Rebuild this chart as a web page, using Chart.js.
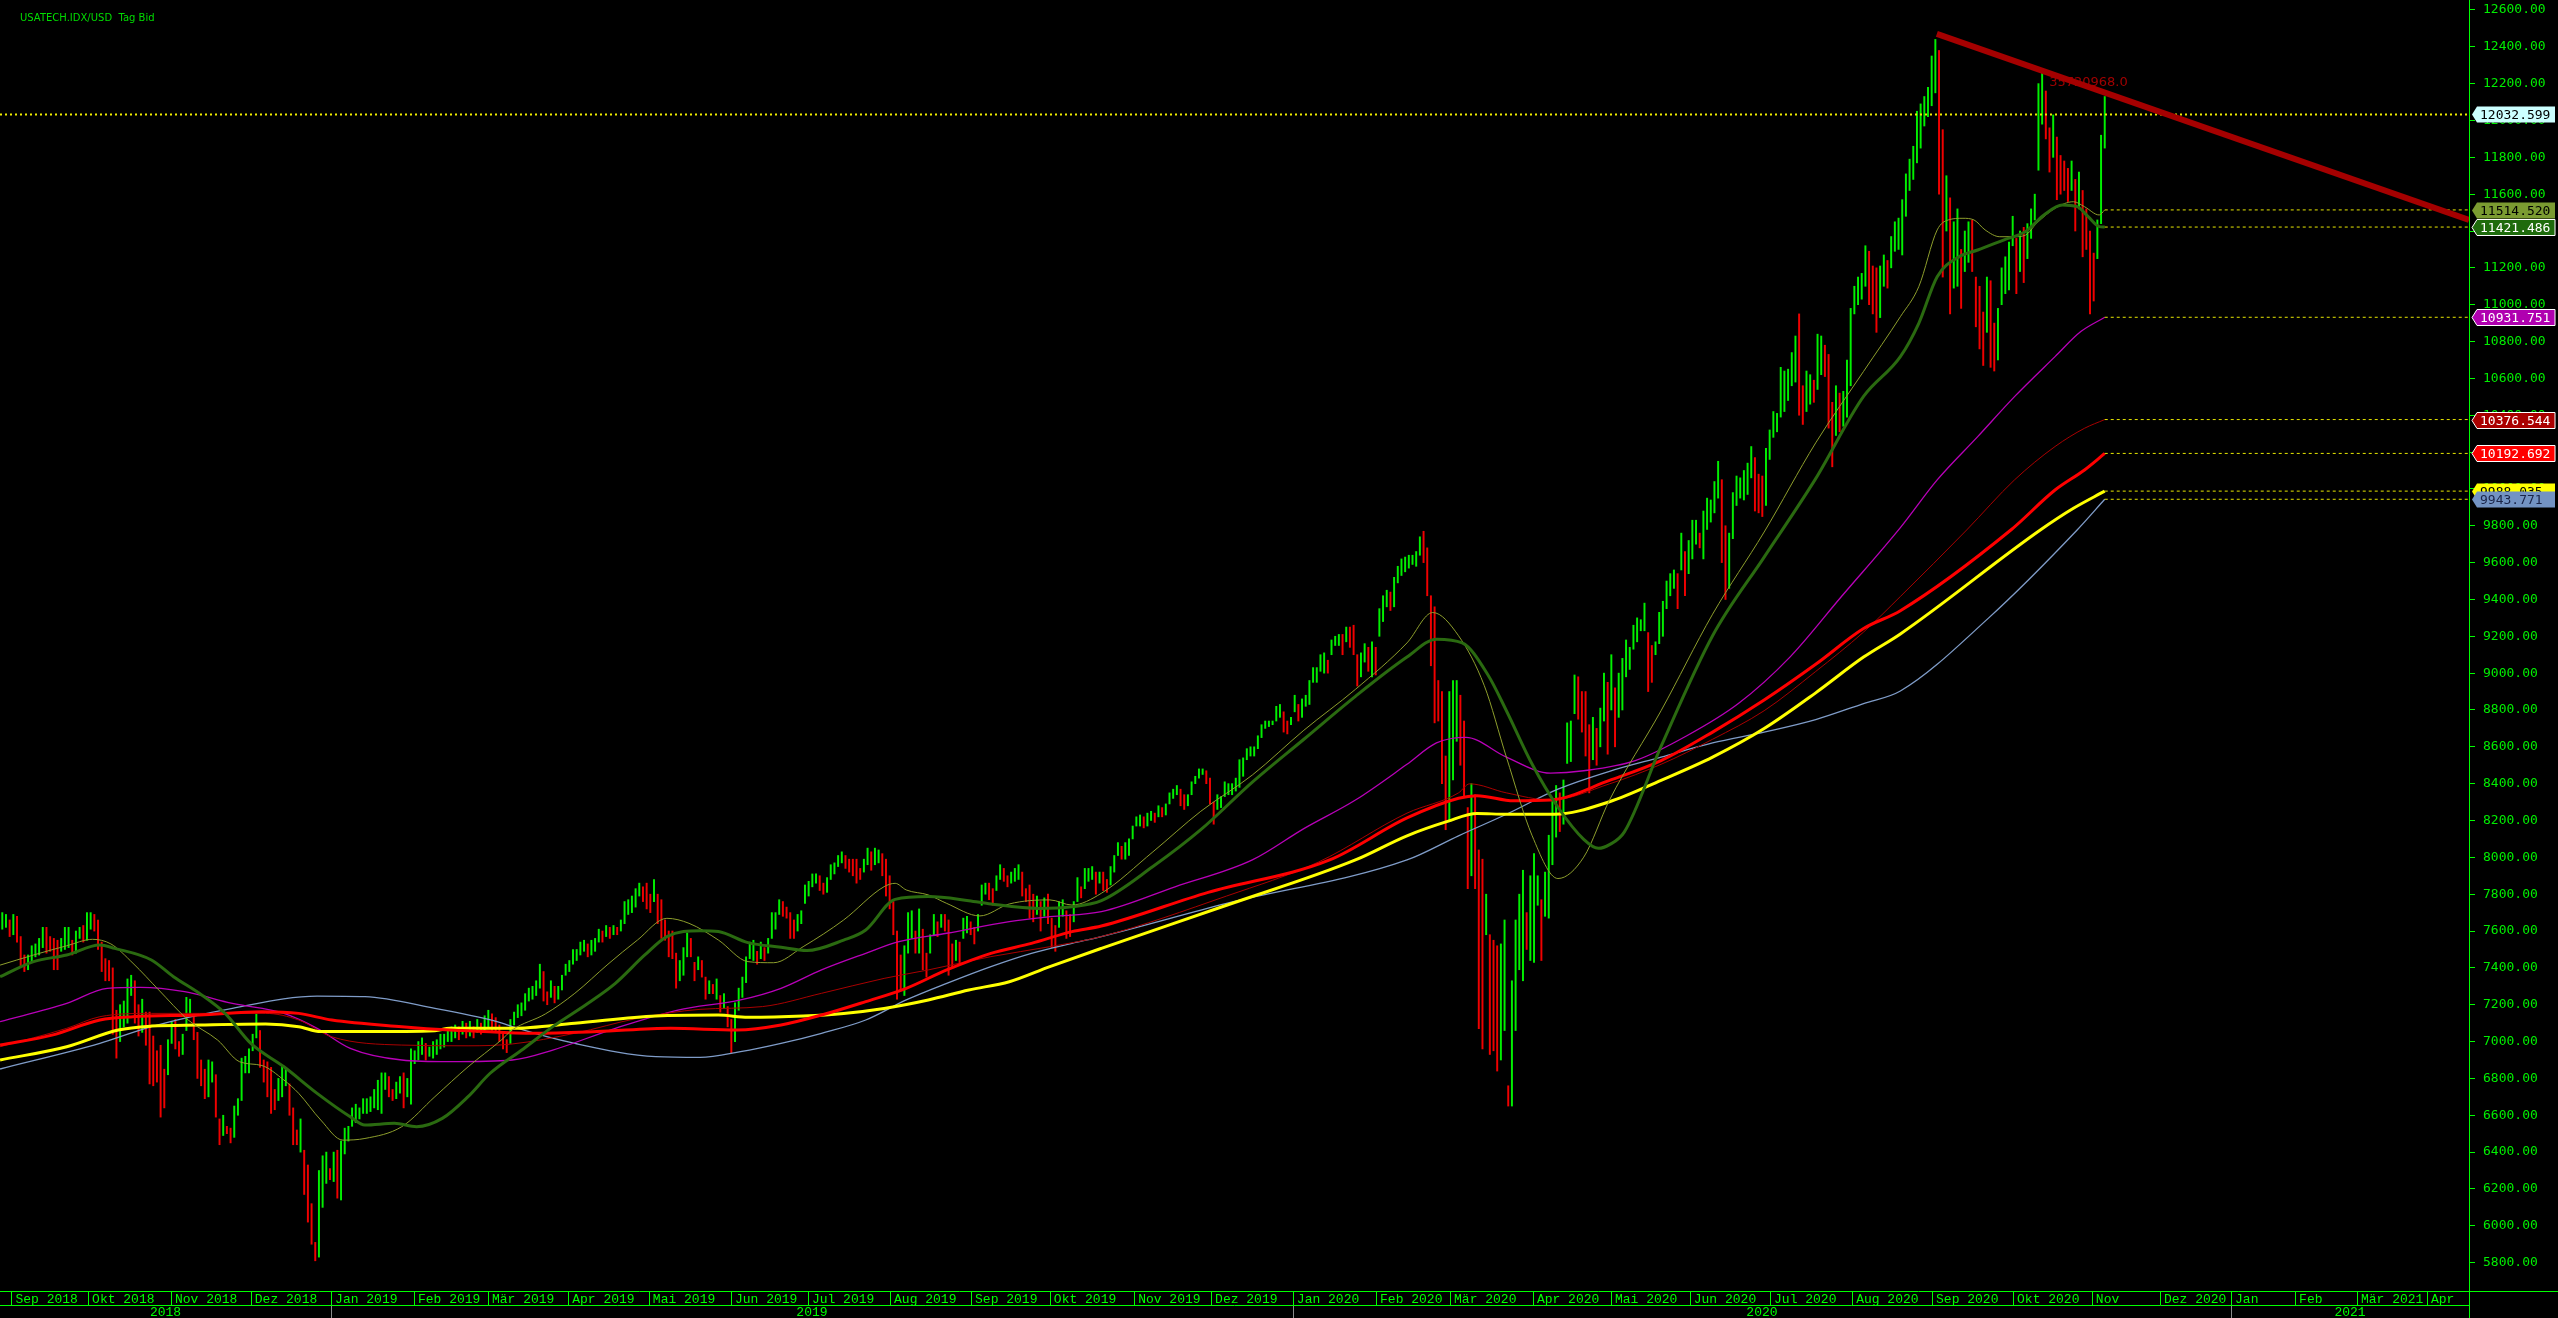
<!DOCTYPE html>
<html>
<head>
<meta charset="utf-8">
<script src="https://cdn.jsdelivr.net/npm/chart.js@4.4.1/dist/chart.umd.min.js"></script>
<style>
  html, body { margin: 0; padding: 0; background: #000; overflow: hidden; }
  canvas { display: block; }
</style>
</head>
<body>
<canvas id="chart" width="2558" height="1318"></canvas>
<script>
// x unit = one weekday, 0 = Mon 3 Sep 2018. First bar is Wed 29 Aug 2018.
const firstDay = -3;
const xMin = -3.12;
const xMax = 667.43;

// daily bars, low / high (USATECH.IDX/USD, daily bid)
const lows = [
  7610, 7620, 7570,
  7580, 7540, 7410, 7380, 7390, 7430, 7460, 7470, 7510, 7480, 7490, 7390, 7390, 7490, 7500, 7510, 7470, 7480, 7560, 7540,
  7550, 7610, 7600, 7500, 7380, 7330, 7330, 7040, 6910, 7000, 7080, 7100, 7250, 7100, 7030, 7050, 6980, 6770, 6760, 6780, 6590, 6640, 6820,
  6990, 6960, 6920, 6930, 7060, 7150, 7010, 6800, 6760, 6690, 6700, 6780, 6590, 6440, 6490, 6500, 6450, 6480, 6600, 6680, 6830, 6830,
  6950, 7020, 6860, 6780, 6700, 6610, 6630, 6680, 6700, 6760, 6600, 6440, 6440, 6400, 6170, 6020, 5900, 5810, 5830, 6100, 6230,
  6250, 6240, 6150, 6140, 6390, 6460, 6540, 6560, 6580, 6610, 6610, 6620, 6640, 6630, 6610, 6740, 6700, 6680, 6690, 6720, 6640, 6700, 6660,
  6880, 6900, 6930, 6900, 6920, 6910, 6930, 6960, 6970, 7000, 7000, 7020, 7010, 7040, 7020, 7030, 7020, 7050, 7040, 7060,
  7070, 7060, 7050, 7000, 6960, 6940, 6990, 7090, 7130, 7140, 7170, 7220, 7230, 7250, 7290, 7220, 7200, 7240, 7210, 7230, 7280,
  7360, 7380, 7420, 7440, 7470, 7490, 7460, 7470, 7490, 7540, 7540, 7570, 7560, 7580, 7580, 7600, 7640, 7690, 7700, 7730, 7790, 7760,
  7720, 7700, 7760, 7640, 7560, 7550, 7460, 7450, 7290, 7330, 7360, 7460, 7460, 7330, 7390, 7350, 7230, 7260, 7260, 7230, 7160, 7180, 7080,
  6940, 7000, 7170, 7240, 7320, 7450, 7440, 7420, 7450, 7440, 7480, 7560, 7610, 7690, 7680, 7670, 7560, 7560, 7600, 7640,
  7750, 7790, 7840, 7860, 7820, 7800, 7810, 7880, 7910, 7950, 7970, 7940, 7920, 7900, 7860, 7880, 7920, 7960, 7930, 7960, 7970, 7900, 7790,
  7720, 7580, 7230, 7280, 7250, 7480, 7560, 7480, 7480, 7390, 7350, 7480, 7580, 7570, 7620, 7600, 7360, 7400, 7440, 7420, 7560, 7590,
  7580, 7530, 7600, 7740, 7800, 7770, 7740, 7820, 7880, 7870, 7840, 7860, 7870, 7880, 7790, 7760, 7670, 7650, 7690, 7600, 7680,
  7640, 7510, 7490, 7620, 7680, 7560, 7570, 7650, 7760, 7780, 7830, 7870, 7880, 7800, 7860, 7820, 7810, 7850, 7920, 8010, 7990, 7990, 8010,
  8100, 8170, 8170, 8160, 8170, 8200, 8190, 8220, 8220, 8230, 8290, 8320, 8340, 8280, 8260, 8280, 8340, 8400, 8430, 8450, 8400,
  8290, 8180, 8260, 8270, 8330, 8340, 8340, 8360, 8380, 8440, 8530, 8550, 8550, 8590, 8650, 8700, 8710, 8720, 8740, 8760, 8680, 8670,
  8720, 8790, 8740, 8760, 8820, 8830, 8950, 8950, 9010, 9000, 9000, 9100, 9150, 9150, 9100, 9170, 9140, 9100, 8930, 8980, 9060, 9010, 8980,
  8990, 9200, 9280, 9360, 9340, 9360, 9490, 9530, 9550, 9570, 9590, 9580, 9640, 9600, 9420, 9040, 8730, 8740, 8400, 8150,
  8200, 8420, 8630, 8500, 8330, 7830, 7900, 7830, 7070, 6960, 7580, 6930, 6950, 6840, 6900, 7060, 6650, 6650, 7060, 7390, 7330, 7500,
  7440, 7430, 7740, 7440, 7680, 7670, 7960, 8110, 8140, 8180, 8510, 8520, 8780, 8750, 8680, 8550, 8350, 8530, 8500, 8600, 8740, 8560,
  8800, 8600, 8760, 8800, 8980, 9020, 9130, 9170, 9230, 9230, 8900, 8950, 9100, 9160, 9200, 9350, 9420, 9460, 9350, 9560, 9420,
  9540, 9620, 9700, 9680, 9620, 9780, 9820, 9870, 9950, 9600, 9400, 9460, 9730, 9910, 9950, 9940, 9970, 10060, 9880, 9870, 9850, 9910,
  10160, 10280, 10310, 10390, 10420, 10480, 10560, 10580, 10400, 10350, 10420, 10460, 10470, 10540, 10620, 10610, 10330, 10120, 10290, 10310, 10340, 10390, 10560,
  10950, 11000, 11030, 11100, 11000, 10950, 10850, 10930, 11100, 11090, 11200, 11290, 11300, 11270, 11480, 11620, 11680, 11770, 11850, 11970, 12020,
  12080, 12150, 11600, 11150, 11400, 10950, 11090, 11100, 10980, 11180, 11230, 11180, 10880, 10760, 10670, 10850, 10660, 10640, 10700, 11000, 11060, 11080,
  11320, 11060, 11180, 11120, 11250, 11360, 11460, 11730, 11980, 11900, 11720, 11800, 11570, 11600, 11620, 11560, 11620, 11400, 11520, 11260, 11300, 10950,
  11020, 11250, 11440, 11850
];
const highs = [
  7700, 7690, 7660,
  7690, 7680, 7570, 7470, 7470, 7520, 7530, 7560, 7620, 7620, 7570, 7560, 7550, 7560, 7620, 7620, 7550, 7600, 7620, 7630,
  7700, 7700, 7690, 7660, 7540, 7450, 7440, 7400, 7170, 7200, 7220, 7340, 7360, 7330, 7200, 7230, 7160, 7160, 7030, 6950, 6980, 6850, 7010,
  7110, 7120, 7000, 7040, 7240, 7230, 7150, 7050, 6900, 6850, 6900, 6890, 6820, 6580, 6600, 6540, 6530, 6650, 6690, 6910, 6920, 6960,
  7040, 7150, 7060, 6900, 6890, 6860, 6740, 6800, 6870, 6860, 6770, 6640, 6520, 6580, 6410, 6330, 6120, 5910, 6300, 6380, 6400,
  6310, 6400, 6410, 6460, 6530, 6540, 6640, 6660, 6640, 6690, 6690, 6700, 6740, 6790, 6830, 6830, 6810, 6740, 6780, 6810, 6830, 6800, 6960,
  6950, 7000, 7020, 6990, 6970, 7000, 7010, 7040, 7040, 7060, 7080, 7090, 7080, 7110, 7100, 7110, 7080, 7120, 7100, 7140,
  7170, 7150, 7130, 7090, 7040, 7010, 7120, 7160, 7200, 7210, 7260, 7290, 7300, 7330, 7420, 7380, 7270, 7330, 7300, 7300, 7360,
  7420, 7440, 7500, 7500, 7540, 7550, 7530, 7550, 7560, 7610, 7600, 7630, 7620, 7630, 7620, 7660, 7760, 7770, 7790, 7830, 7860, 7840,
  7860, 7800, 7880, 7800, 7770, 7660, 7600, 7600, 7480, 7440, 7510, 7590, 7560, 7430, 7460, 7440, 7350, 7330, 7310, 7340, 7250, 7260, 7190,
  7120, 7210, 7290, 7350, 7460, 7540, 7550, 7490, 7540, 7510, 7560, 7700, 7700, 7770, 7760, 7730, 7700, 7660, 7690, 7710,
  7850, 7870, 7910, 7910, 7900, 7860, 7890, 7960, 7970, 8010, 8030, 8010, 7990, 7990, 7990, 7940, 7990, 8050, 8030, 8050, 8040, 8020, 7990,
  7900, 7760, 7600, 7470, 7520, 7700, 7710, 7600, 7720, 7610, 7480, 7580, 7690, 7650, 7690, 7690, 7660, 7530, 7550, 7540, 7670, 7680,
  7650, 7620, 7690, 7850, 7860, 7860, 7830, 7900, 7960, 7940, 7900, 7920, 7940, 7960, 7920, 7830, 7850, 7800, 7790, 7760, 7780,
  7800, 7670, 7630, 7760, 7770, 7710, 7690, 7760, 7890, 7840, 7940, 7940, 7950, 7920, 7920, 7920, 7880, 7950, 8010, 8080, 8060, 8080, 8100,
  8170, 8220, 8230, 8220, 8240, 8250, 8240, 8280, 8270, 8290, 8350, 8370, 8390, 8370, 8340, 8340, 8410, 8440, 8480, 8480, 8470,
  8430, 8300, 8340, 8330, 8410, 8400, 8400, 8430, 8530, 8540, 8590, 8600, 8600, 8660, 8720, 8740, 8740, 8740, 8820, 8830, 8790, 8740,
  8760, 8880, 8830, 8860, 8880, 8960, 9030, 9030, 9100, 9110, 9070, 9180, 9200, 9210, 9210, 9250, 9250, 9260, 9100, 9110, 9160, 9140, 9170,
  9140, 9350, 9420, 9450, 9440, 9520, 9580, 9620, 9630, 9640, 9640, 9660, 9740, 9770, 9680, 9420, 9360, 8960, 8900, 8550,
  8900, 8960, 8960, 8880, 8740, 8270, 8400, 8340, 8040, 7990, 7800, 7580, 7550, 7520, 7530, 7660, 6760, 7330, 7660, 7800, 7930, 7700,
  7900, 8020, 7900, 7770, 7920, 8120, 8320, 8390, 8350, 8420, 8730, 8740, 8990, 8980, 8900, 8900, 8720, 8760, 8700, 8810, 9000, 8950,
  9100, 8920, 9000, 9080, 9180, 9140, 9260, 9300, 9290, 9380, 9220, 9150, 9170, 9330, 9390, 9500, 9540, 9560, 9540, 9760, 9660,
  9720, 9830, 9830, 9760, 9880, 9950, 9940, 10040, 10150, 10050, 9800, 9760, 9980, 10070, 10060, 10100, 10140, 10230, 10170, 10080, 10070, 10220,
  10320, 10420, 10410, 10660, 10640, 10650, 10740, 10830, 10950, 10560, 10640, 10620, 10590, 10840, 10830, 10780, 10730, 10470, 10560, 10520, 10530, 10700, 10980,
  11100, 11150, 11170, 11320, 11290, 11210, 11200, 11210, 11270, 11240, 11370, 11450, 11470, 11570, 11710, 11790, 11860, 12050, 12090, 12130, 12180,
  12350, 12440, 12380, 11950, 11700, 11580, 11450, 11520, 11300, 11400, 11450, 11460, 11150, 11100, 10960, 11150, 11130, 10900, 10980, 11200, 11260, 11340,
  11480, 11360, 11400, 11420, 11440, 11520, 11600, 12200, 12260, 12160, 11960, 12030, 11910, 11810, 11780, 11740, 11780, 11680, 11720, 11620, 11520, 11400,
  11280, 11460, 11920, 12130
];

const lastPrice = 12032.599;

// moving averages as [weekday, value]
const maFast = [[-3.1,7415],[6,7470],[15,7520],[22,7555],[27,7530],[33,7425],[40,7280],[48,7117],[56,7008],[62,6890],[68,6870],[74,6791],[78,6719],[84,6574],[90,6465],[96,6474],[106,6538],[115,6701],[124,6863],[133,7008],[136,7063],[145,7150],[153,7262],[162,7420],[170,7551],[178,7669],[184,7642],[192,7551],[200,7434],[207,7428],[215,7515],[226,7660],[237,7841],[240,7859],[243,7823],[249,7796],[254,7750],[263,7682],[271,7747],[282,7769],[288,7741],[296,7805],[310,8030],[323,8250],[337,8447],[351,8690],[365,8912],[379,9164],[386,9329],[393,9203],[400,8932],[406,8544],[413,8117],[420,7885],[427,8001],[434,8311],[448,8796],[462,9320],[476,9766],[490,10250],[503,10638],[513,10935],[518,11098],[523,11406],[526,11460],[530,11469],[533,11460],[536,11406],[540,11369],[544,11369],[547,11378],[550,11442],[555,11523],[560,11559],[563,11532],[567,11487],[568.5,11514.52]];
const maGreen = [[-3.1,7352],[6,7434],[15,7470],[24,7524],[28,7506],[38,7443],[44,7352],[51,7262],[58,7153],[65,6990],[74,6863],[83,6719],[92,6592],[96,6547],[104,6556],[110,6538],[117,6583],[124,6701],[130,6828],[139,6960],[147,7081],[156,7200],[164,7316],[172,7470],[178,7570],[187,7602],[192,7597],[200,7537],[209,7512],[216,7494],[226,7551],[232,7606],[240,7772],[249,7787],[260,7765],[266,7747],[279,7723],[288,7732],[296,7765],[310,7950],[323,8150],[337,8408],[351,8641],[365,8874],[379,9087],[387,9184],[394,9164],[401,8990],[406,8796],[413,8505],[420,8272],[427,8098],[431,8049],[434,8069],[438,8137],[448,8602],[462,9203],[476,9630],[490,10056],[503,10502],[513,10718],[518,10899],[523,11152],[529,11261],[534,11297],[541,11351],[547,11397],[552,11487],[557,11541],[561,11532],[564,11478],[567,11424],[568.5,11421.486]];
const maMagenta = [[-3.1,7108],[15,7207],[26,7289],[35,7294],[47,7271],[60,7207],[74,7153],[83,7072],[92,6963],[106,6900],[119,6891],[136,6900],[147,6954],[164,7072],[181,7171],[198,7226],[209,7289],[220,7389],[232,7479],[241,7542],[254,7588],[271,7651],[282,7678],[296,7705],[316,7840],[337,7986],[351,8156],[365,8311],[379,8505],[387,8621],[395,8651],[406,8544],[418,8457],[427,8470],[441,8525],[455,8660],[469,8835],[483,9087],[497,9416],[513,9790],[523,10049],[534,10284],[544,10501],[555,10718],[562,10854],[568.5,10931.751]];
const maDarkRed = [[-3.1,6972],[15,7072],[24,7135],[38,7153],[51,7153],[69,7153],[78,7117],[87,7026],[106,6981],[124,6977],[136,6987],[153,7045],[170,7126],[187,7175],[204,7190],[220,7262],[237,7343],[249,7389],[266,7461],[282,7515],[296,7570],[330,7790],[355,7975],[379,8240],[393,8350],[396,8399],[406,8350],[418,8311],[434,8399],[448,8505],[462,8641],[476,8796],[490,9009],[503,9223],[513,9416],[531,9777],[544,10049],[555,10230],[563,10329],[568.5,10376.544]];
const maRed = [[-3.1,6981],[11,7035],[24,7117],[33,7135],[51,7144],[68,7162],[78,7153],[87,7117],[106,7081],[119,7063],[124,7059],[142,7045],[159,7054],[179,7072],[197,7063],[209,7090],[220,7144],[232,7217],[243,7289],[254,7389],[266,7479],[277,7533],[288,7597],[296,7627],[325,7810],[358,7986],[379,8214],[393,8321],[398,8335],[408,8307],[418,8311],[434,8418],[448,8525],[462,8680],[476,8854],[490,9048],[503,9242],[513,9339],[543,9777],[555,9994],[563,10103],[568.5,10192.692]];
const maYellow = [[-3.1,6900],[15,6972],[29,7063],[38,7084],[51,7090],[69,7095],[78,7081],[84,7054],[96,7054],[115,7059],[119,7072],[136,7072],[153,7099],[175,7139],[192,7144],[200,7132],[215,7139],[226,7153],[237,7180],[249,7226],[260,7280],[271,7325],[282,7407],[296,7506],[330,7740],[365,7986],[379,8117],[390,8195],[398,8238],[406,8234],[419,8234],[434,8302],[448,8418],[462,8544],[476,8699],[490,8893],[503,9087],[513,9213],[551,9777],[560,9895],[568.5,9988.035]];
const maBlue = [[-3.1,6851],[24,6990],[38,7081],[60,7180],[83,7247],[96,7244],[115,7180],[133,7102],[136,7081],[153,6990],[175,6918],[187,6914],[198,6945],[209,6990],[220,7045],[232,7117],[243,7226],[254,7316],[266,7407],[277,7479],[288,7533],[296,7570],[330,7750],[379,7986],[393,8117],[406,8234],[420,8370],[434,8467],[448,8544],[462,8621],[476,8680],[490,8748],[503,8835],[513,8903],[537,9300],[561,9777],[568.5,9943.771]];

// trend line from the September 2020 top
const trendX = [522.9, 667.43];
const trendY = [12470, 11460];

const yTicks = [5800, 6000, 6200, 6400, 6600, 6800, 7000, 7200, 7400, 7600, 7800, 8000, 8200, 8400, 8600, 8800, 9000, 9200, 9400, 9600, 9800, 10000, 10200, 10400, 10600, 10800, 11000, 11200, 11400, 11600, 11800, 12000, 12200, 12400, 12600];

const monthStarts = [0, 20.8, 43.3, 65, 86.8, 109.3, 129.4, 151.2, 173.1, 195.4, 216.3, 238.6, 260.6, 282, 304.9, 325.8, 348, 370.6, 390.7, 413.2, 434.4, 455.8, 477.6, 499.9, 521.6, 543.6, 565, 583.5, 602.8, 620.2, 637, 656];
const monthLabels = ['Sep 2018', 'Okt 2018', 'Nov 2018', 'Dez 2018', 'Jan 2019', 'Feb 2019', 'Mär 2019', 'Apr 2019', 'Mai 2019', 'Jun 2019', 'Jul 2019', 'Aug 2019', 'Sep 2019', 'Okt 2019', 'Nov 2019', 'Dez 2019', 'Jan 2020', 'Feb 2020', 'Mär 2020', 'Apr 2020', 'Mai 2020', 'Jun 2020', 'Jul 2020', 'Aug 2020', 'Sep 2020', 'Okt 2020', 'Nov', 'Dez 2020', 'Jan', 'Feb', 'Mär 2021', 'Apr'];
const yearStarts = [-3.12, 86.8, 348, 602.8];
const yearLabels = ['2018', '2019', '2020', '2021'];

// right-hand value tags: price first, then the averages
const tagValues = [12032.599, 11514.520, 11421.486, 10931.751, 10376.544, 10192.692, 9988.035, 9943.771];
const tagFill = ['#ccffff', '#7b9b31', '#1e6b0c', '#b000b0', '#aa0000', '#ff0000', '#ffff00', '#7393c3'];
const tagText = ['#000000', '#000000', '#ffffff', '#ffffff', '#ffffff', '#ffffff', '#000000', '#1a2448'];
const tagEdge = [null, null, '#ffffff', '#ffffff', '#ffffff', '#ffffff', null, null];

const lastX = firstDay + lows.length - 1 + 0.5;

const bars = lows.map((lo, i) => ({ x: firstDay + i + 0.5, y: [lo, highs[i]] }));
const barColors = lows.map((lo, i) => {
  if (i === 0) return '#00f000';
  const mid = (lo + highs[i]) / 2;
  const prev = (lows[i - 1] + highs[i - 1]) / 2;
  return mid >= prev ? '#00f000' : '#f00000';
});

function maLine(points, color, width, order) {
  return {
    type: 'line',
    data: points.map(([x, y]) => ({ x, y })),
    borderColor: color,
    borderWidth: width,
    pointRadius: 0,
    cubicInterpolationMode: 'monotone',
    fill: false,
    order
  };
}

const levelLines = tagValues.slice(1).map(v => ({
  type: 'line',
  data: [{ x: lastX, y: v }, { x: xMax, y: v }],
  borderColor: '#e6e600',
  borderWidth: 1,
  borderDash: [3, 3],
  pointRadius: 0,
  order: 2
}));

const overlay = {
  id: 'overlay',
  beforeDraw(c) {
    const g = c.ctx;
    g.save();
    g.fillStyle = '#000';
    g.fillRect(0, 0, c.width, c.height);
    g.restore();
  },
  beforeDatasetsDraw(c) {
    const g = c.ctx;
    const { x, y } = c.scales;
    g.save();
    g.font = '13px "DejaVu Sans"';
    g.fillStyle = '#a00000';
    g.textBaseline = 'middle';
    g.fillText('35720968.0', x.getPixelForValue(553.4), y.getPixelForValue(12205));
    g.restore();
  },
  afterDraw(c) {
    const g = c.ctx;
    const { x, y } = c.scales;
    const area = c.chartArea;
    const axisX = area.right;
    const top = area.bottom;
    const mid = top + 14;
    g.save();

    // title
    g.font = '10px "DejaVu Sans"';
    g.fillStyle = '#00dd00';
    g.textBaseline = 'alphabetic';
    g.fillText('USATECH.IDX/USD  Tag Bid', 20, 21);

    // time strip
    g.strokeStyle = '#00ff00';
    g.lineWidth = 1;
    g.beginPath();
    g.moveTo(0, top + 0.5); g.lineTo(c.width, top + 0.5);
    g.moveTo(0, mid + 0.5); g.lineTo(axisX, mid + 0.5);
    g.moveTo(axisX + 0.5, 0); g.lineTo(axisX + 0.5, c.height);
    monthStarts.forEach(m => {
      const px = Math.round(x.getPixelForValue(m)) + 0.5;
      g.moveTo(px, top); g.lineTo(px, mid);
    });
    g.stroke();

    g.strokeStyle = '#8a8a8a';
    g.beginPath();
    yearStarts.slice(1).forEach(m => {
      const px = Math.round(x.getPixelForValue(m)) + 0.5;
      g.moveTo(px, mid + 1); g.lineTo(px, c.height);
    });
    g.stroke();

    g.font = '13px "Liberation Mono"';
    g.fillStyle = '#00ff00';
    g.textBaseline = 'alphabetic';
    g.textAlign = 'left';
    monthLabels.forEach((t, i) => {
      g.fillText(t, x.getPixelForValue(monthStarts[i]) + 4, top + 12);
    });
    g.textAlign = 'center';
    yearLabels.forEach((t, i) => {
      const a = Math.max(0, x.getPixelForValue(yearStarts[i]));
      const b = i + 1 < yearStarts.length ? x.getPixelForValue(yearStarts[i + 1]) : axisX;
      g.fillText(t, (a + b) / 2, c.height - 2);
    });

    // value tags
    g.font = '13px "DejaVu Sans Mono"';
    g.textAlign = 'left';
    g.textBaseline = 'middle';
    const x0 = axisX + 3;
    const w = 83, h = 16;
    tagValues.forEach((v, i) => {
      const py = Math.round(y.getPixelForValue(v)) + 0.5;
      g.beginPath();
      g.moveTo(x0, py);
      g.lineTo(x0 + 5, py - h / 2);
      g.lineTo(x0 + w, py - h / 2);
      g.lineTo(x0 + w, py + h / 2);
      g.lineTo(x0 + 5, py + h / 2);
      g.closePath();
      g.fillStyle = tagFill[i];
      g.fill();
      if (tagEdge[i]) {
        g.strokeStyle = tagEdge[i];
        g.lineWidth = 1;
        g.stroke();
      }
      g.fillStyle = tagText[i];
      g.fillText(v.toFixed(3), x0 + 8, py + 1);
    });
    g.restore();
  }
};

new Chart(document.getElementById('chart'), {
  type: 'bar',
  data: {
    datasets: [
      {
        type: 'line',
        data: trendX.map((v, i) => ({ x: v, y: trendY[i] })),
        borderColor: '#a50000',
        borderWidth: 6,
        pointRadius: 0,
        order: 0
      },
      {
        type: 'line',
        data: [{ x: xMin, y: lastPrice }, { x: xMax, y: lastPrice }],
        borderColor: '#eeee00',
        borderWidth: 2,
        borderDash: [2, 3],
        pointRadius: 0,
        order: 1
      },
      ...levelLines,
      maLine(maGreen, '#2a6a10', 3, 3),
      maLine(maFast, '#8d9e2c', 1, 4),
      maLine(maRed, '#ff0000', 3, 5),
      maLine(maYellow, '#ffff00', 3, 6),
      maLine(maDarkRed, '#a80000', 1, 7),
      maLine(maMagenta, '#b800b8', 1.3, 8),
      maLine(maBlue, '#7f9cc8', 1.3, 9),
      {
        type: 'bar',
        data: bars,
        backgroundColor: barColors,
        borderWidth: 0,
        barThickness: 1.3,
        grouped: false,
        order: 20
      }
    ]
  },
  options: {
    responsive: false,
    animation: false,
    devicePixelRatio: 1,
    events: [],
    layout: { padding: { left: 0, top: 0, right: 0, bottom: 27 } },
    plugins: { legend: { display: false }, tooltip: { enabled: false } },
    scales: {
      x: { type: 'linear', min: xMin, max: xMax, display: false, offset: false },
      y: {
        position: 'right',
        min: 5646,
        max: 12654,
        afterBuildTicks: s => { s.ticks = yTicks.map(v => ({ value: v })); },
        afterFit: s => { s.width = 89; s.paddingTop = 0; s.paddingBottom = 0; },
        grid: { drawOnChartArea: false, drawTicks: true, tickLength: 6, color: '#00ff00' },
        border: { color: '#00ff00', width: 1 },
        ticks: {
          color: '#00ee00',
          padding: 8,
          autoSkip: false,
          font: { family: 'DejaVu Sans Mono', size: 13 },
          callback: v => v.toFixed(2)
        }
      }
    }
  },
  plugins: [overlay]
});
</script>
</body>
</html>
